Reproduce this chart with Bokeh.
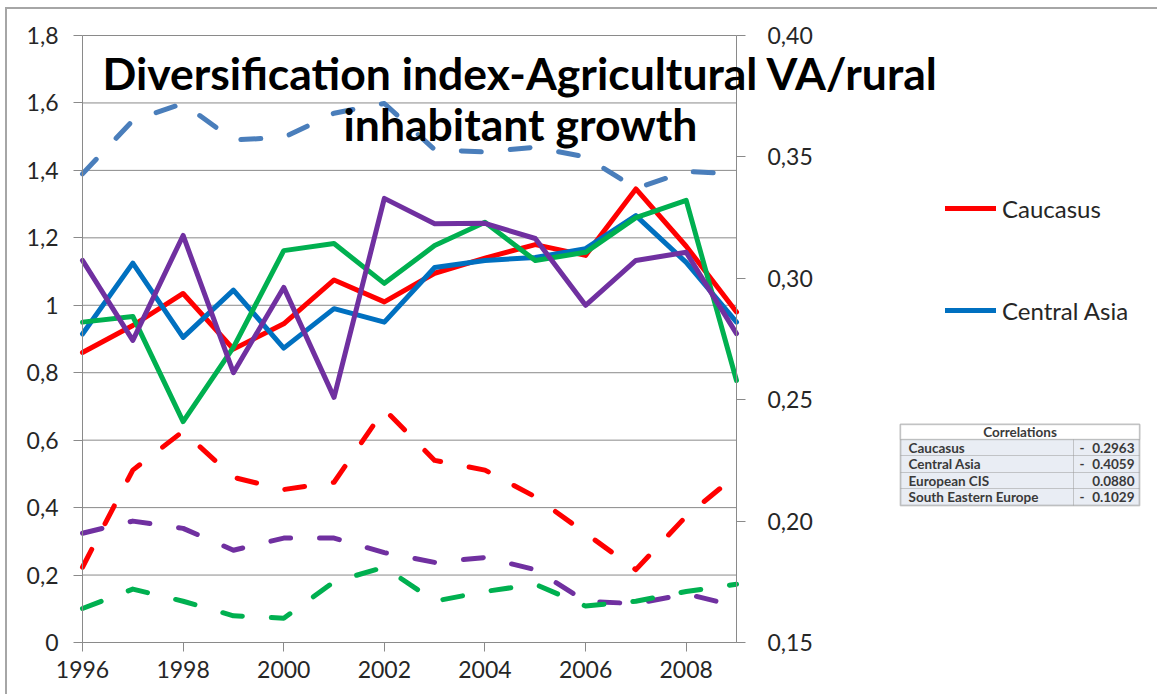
from bokeh.plotting import figure
from bokeh.models import (Range1d, LinearAxis, FixedTicker, CustomJSTickFormatter,
                          Label, BoxAnnotation, Legend, LegendItem)
from bokeh.embed import file_html
from bokeh.resources import INLINE

# ---------------- data ----------------
years = list(range(1996, 2010))

# solid lines (left axis)
caucasus      = [0.86, 0.94, 1.035, 0.87, 0.945, 1.075, 1.01, 1.095, 1.14, 1.18, 1.148, 1.345, 1.175, 0.98]
central_asia  = [0.915, 1.125, 0.905, 1.045, 0.873, 0.99, 0.95, 1.112, 1.133, 1.142, 1.168, 1.266, 1.127, 0.95]
european_cis  = [0.95, 0.967, 0.655, 0.875, 1.162, 1.183, 1.065, 1.177, 1.246, 1.133, 1.157, 1.26, 1.311, 0.777]
south_eastern = [1.133, 0.896, 1.207, 0.80, 1.053, 0.727, 1.317, 1.242, 1.243, 1.198, 1.0, 1.133, 1.157, 0.916]

# dashed lines (right axis)
dash_blue   = [0.343, 0.365, 0.372, 0.357, 0.358, 0.368, 0.372, 0.353, 0.352, 0.354, 0.350, 0.337, 0.344, 0.343]
dash_red    = [0.181, 0.221, 0.237, 0.218, 0.213, 0.216, 0.246, 0.225, 0.221, 0.210, 0.195, 0.180, 0.202, 0.219]
dash_purple = [0.195, 0.200, 0.197, 0.188, 0.193, 0.193, 0.187, 0.183, 0.185, 0.180, 0.167, 0.166, 0.170, 0.165]
dash_green  = [0.164, 0.172, 0.167, 0.161, 0.160, 0.175, 0.181, 0.167, 0.171, 0.174, 0.165, 0.167, 0.171, 0.174]

x_ticks = [1996, 1998, 2000, 2002, 2004, 2006, 2008]
left_ticks = [0, 0.2, 0.4, 0.6, 0.8, 1.0, 1.2, 1.4, 1.6, 1.8]
right_ticks = [0.15, 0.20, 0.25, 0.30, 0.35, 0.40]

title_lines = ["Diversification index-Agricultural VA/rural", "inhabitant growth"]

corr_regions = ["Caucasus", "Central Asia", "European CIS", "South Eastern Europe"]
corr_signs = ["-", "-", "", "-"]
corr_values = ["0.2963", "0.4059", "0.0880", "0.1029"]

# ---------------- layout ----------------
OX, OY = 7, 9                # page px of canvas origin (margin + border)
AX_L, AX_R = 82, 736         # page px of first / last year
AX_T, AX_B = 35, 642         # page px of axis top / zero line
W, H = 1152, 687
ML, MR, MT, MB = 2, 2, 2, 2
F_LEFT = OX + ML             # page px of frame left
F_RIGHT = OX + W - MR
F_TOP = OY + MT              # page px of frame top
F_BOT = OY + H - MB          # page px of frame bottom

ppx = (AX_R - AX_L) / (years[-1] - years[0])
ppu_l = (AX_B - AX_T) / (left_ticks[-1] - left_ticks[0])
ppu_r = (AX_B - AX_T) / (right_ticks[-1] - right_ticks[0])
xr = Range1d(years[0] - (AX_L - F_LEFT) / ppx, years[-1] + (F_RIGHT - AX_R) / ppx)
yl = Range1d(left_ticks[0] - (F_BOT - AX_B) / ppu_l, left_ticks[-1] + (AX_T - F_TOP) / ppu_l)
yr = Range1d(right_ticks[0] - (F_BOT - AX_B) / ppu_r, right_ticks[-1] + (AX_T - F_TOP) / ppu_r)


def sx(px):
    return px - F_LEFT


def sy(py):
    return F_BOT - py


p = figure(width=W, height=H, output_backend="svg", toolbar_location=None,
           x_range=xr, y_range=yl,
           min_border_left=ML, min_border_right=MR, min_border_top=MT, min_border_bottom=MB)
p.styles = {"margin-left": "5px", "margin-top": "7px",
            "border-left": "2px solid #a6a6a6", "border-top": "2px solid #a6a6a6"}
p.outline_line_color = None
p.background_fill_color = "white"
p.border_fill_color = "white"
p.extra_y_ranges = {"right": yr}
p.grid.visible = False

AX = "#8a8a8a"
TXT = "#262626"
FONT = "Lato"

p.xaxis.ticker = FixedTicker(ticks=x_ticks)
p.xaxis.bounds = (years[0], years[-1])
p.xaxis.fixed_location = left_ticks[0]
p.yaxis.ticker = FixedTicker(ticks=left_ticks)
p.yaxis.bounds = (left_ticks[0], left_ticks[-1])
p.yaxis.fixed_location = years[0]
p.yaxis.formatter = CustomJSTickFormatter(code="return (Math.round(tick*10)/10).toString().replace('.', ',');")
for ax in (p.xaxis[0], p.yaxis[0]):
    ax.axis_line_color = AX
    ax.major_tick_line_color = AX
    ax.minor_tick_line_color = None
    ax.major_tick_out = 9
    ax.major_tick_in = 0
    ax.major_label_text_font = FONT
    ax.major_label_text_font_size = "23px"
    ax.major_label_text_color = TXT
p.xaxis.major_label_standoff = 9
p.yaxis.major_label_standoff = 15

r_axis = LinearAxis(y_range_name="right", ticker=FixedTicker(ticks=right_ticks),
                    fixed_location=years[-1], bounds=(right_ticks[0], right_ticks[-1]),
                    formatter=CustomJSTickFormatter(code="return tick.toFixed(2).replace('.', ',');"))
r_axis.axis_line_color = AX
r_axis.major_tick_line_color = AX
r_axis.minor_tick_line_color = None
r_axis.major_tick_out = 9
r_axis.major_tick_in = 0
r_axis.major_label_text_font = FONT
r_axis.major_label_text_font_size = "23px"
r_axis.major_label_text_color = TXT
r_axis.major_label_standoff = 22
p.add_layout(r_axis, "right")

# horizontal gridlines, only across the plotted years
p.segment(x0=[years[0]] * len(left_ticks), x1=[years[-1]] * len(left_ticks),
          y0=left_ticks, y1=left_ticks, line_color=AX, line_width=1)

LW = 5
r_red = p.line(years, caucasus, line_color="#FF0000", line_width=LW, line_join="round", line_cap="round")
r_blue = p.line(years, central_asia, line_color="#0070C0", line_width=LW, line_join="round", line_cap="round")
p.line(years, european_cis, line_color="#00B050", line_width=LW, line_join="round", line_cap="round")
p.line(years, south_eastern, line_color="#7030A0", line_width=LW, line_join="round", line_cap="round")

DASH = "20 29"
for vals, col in ((dash_blue, "#4A7EBB"), (dash_red, "#FF0000"),
                  (dash_purple, "#7030A0"), (dash_green, "#00B050")):
    p.line(years, vals, y_range_name="right", line_color=col, line_width=LW,
           line_dash=DASH, line_cap="round", line_join="round")

# ---------------- title ----------------
TS = 44.5
for txt, base in zip(title_lines, (87, 138)):
    p.add_layout(Label(x=sx(520), y=sy(base - 0.33 * TS), x_units="screen", y_units="screen", text=txt,
                       text_align="center", text_baseline="alphabetic",
                       text_font=FONT, text_font_style="bold", text_font_size=f"{TS}px",
                       text_color="black"))

# ---------------- legend ----------------
legend = Legend(items=[LegendItem(label="Caucasus", renderers=[r_red]),
                       LegendItem(label="Central Asia", renderers=[r_blue])],
                location=(sx(945), sy(325)), orientation="vertical",
                glyph_width=51, glyph_height=30, label_height=30, spacing=72,
                label_standoff=6, padding=0, margin=0,
                border_line_color=None, background_fill_alpha=0,
                label_text_font=FONT, label_text_font_size="24px", label_text_color=TXT)
p.add_layout(legend, "center")

# ---------------- correlations table ----------------
T_L, T_R, T_SPLIT = 900, 1139, 1073
row_edges = [424, 439, 455, 472, 488, 505]


def box(l, r, t, b, **kw):
    return BoxAnnotation(left=sx(l), right=sx(r), top=sy(t), bottom=sy(b),
                         left_units="screen", right_units="screen", top_units="screen",
                         bottom_units="screen", **kw)


p.add_layout(box(T_L, T_R, row_edges[0], row_edges[-1],
                 fill_color="#E9EDF4", fill_alpha=1, line_color="#6f6f6f", line_width=2))
p.add_layout(box(T_L, T_R, row_edges[0], row_edges[1],
                 fill_color="white", fill_alpha=1, line_color="#6f6f6f", line_width=1.5))
for i in range(1, 5):
    for (l, r) in ((T_L, T_SPLIT), (T_SPLIT, T_R)):
        p.add_layout(box(l, r, row_edges[i], row_edges[i + 1],
                         fill_alpha=0, line_color="#9a9a9a", line_width=1))

TB = "#3a3a3a"
TFS = "13.5px"
p.add_layout(Label(x=sx((T_L + T_R) / 2), y=sy((row_edges[0] + row_edges[1]) / 2), x_units="screen",
                   y_units="screen", text="Correlations", text_align="center", text_baseline="middle",
                   text_font=FONT, text_font_style="bold", text_font_size=TFS, text_color=TB))
for i, (reg, sg, val) in enumerate(zip(corr_regions, corr_signs, corr_values)):
    cy = sy((row_edges[i + 1] + row_edges[i + 2]) / 2)
    p.add_layout(Label(x=sx(908), y=cy, x_units="screen", y_units="screen", text=reg,
                       text_align="left", text_baseline="middle", text_font=FONT,
                       text_font_style="bold", text_font_size=TFS, text_color=TB))
    if sg:
        p.add_layout(Label(x=sx(1079), y=cy, x_units="screen", y_units="screen", text=sg,
                           text_align="left", text_baseline="middle", text_font=FONT,
                           text_font_style="bold", text_font_size=TFS, text_color=TB))
    p.add_layout(Label(x=sx(1134), y=cy, x_units="screen", y_units="screen", text=val,
                       text_align="right", text_baseline="middle", text_font=FONT,
                       text_font_style="bold", text_font_size=TFS, text_color=TB))

open("out.html", "w").write(file_html(p, INLINE))
